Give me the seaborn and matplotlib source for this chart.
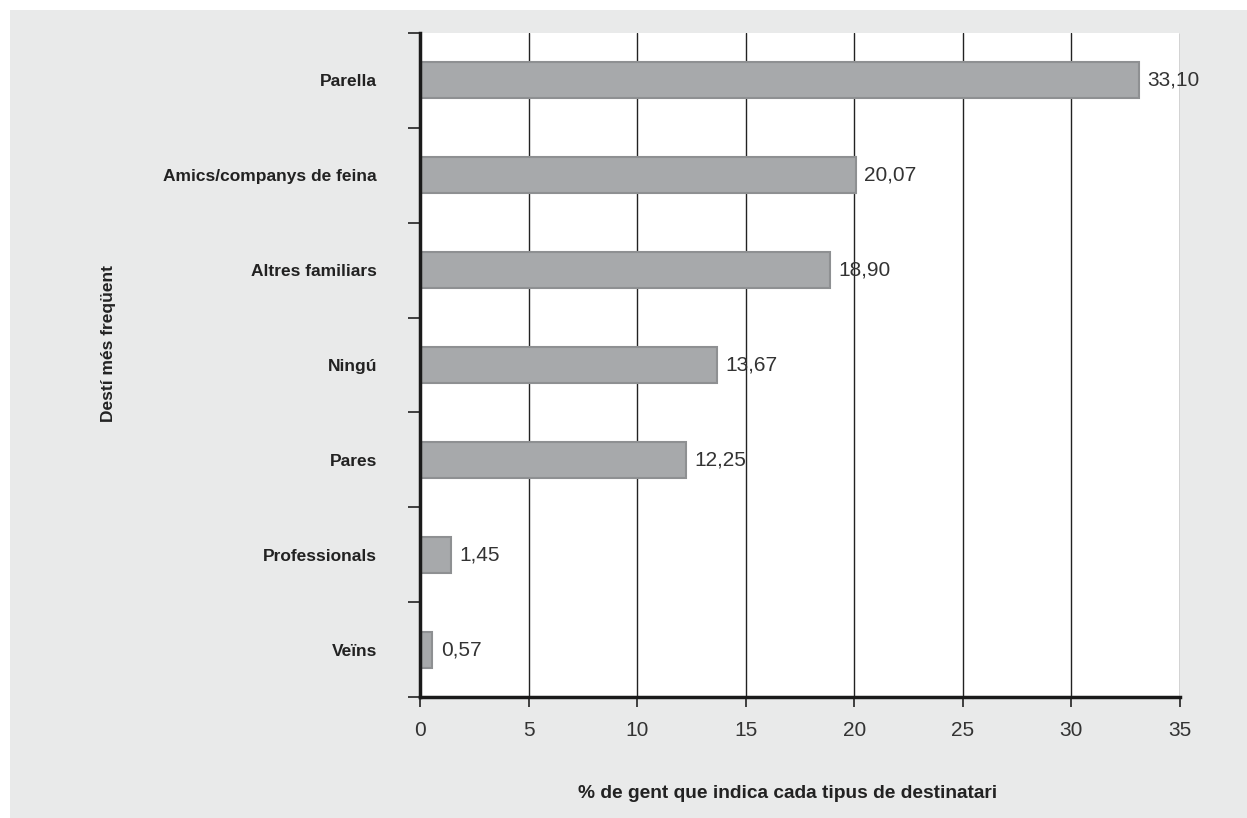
import matplotlib
matplotlib.use("Agg")
import matplotlib.pyplot as plt
import seaborn as sns
import pandas as pd
import numpy as np
from matplotlib.patches import Rectangle

categories = ["Parella", "Amics/companys de feina", "Altres familiars", "Ningú",
              "Pares", "Professionals", "Veïns"]
values = [33.10, 20.07, 18.90, 13.67, 12.25, 1.45, 0.57]
value_labels = ["33,10", "20,07", "18,90", "13,67", "12,25", "1,45", "0,57"]
xticks = [0, 5, 10, 15, 20, 25, 30, 35]

df = pd.DataFrame({"cat": categories, "val": values})

sns.set_style("white")
plt.rcParams["font.family"] = ["Liberation Sans", "DejaVu Sans"]

fig = plt.figure(figsize=(12.47, 8.18), dpi=100)
fig.patch.set_facecolor("white")
# grey panel behind the chart
fig.patches.append(Rectangle((10 / 1247, 0), 1 - 10 / 1247, 1 - 10 / 818,
                             transform=fig.transFigure, facecolor="#e9eaea",
                             edgecolor="none", zorder=-10))

ax = fig.add_axes([420 / 1247, 1 - 697 / 818, 760 / 1247, 664 / 818])
ax.set_facecolor("white")

sns.barplot(data=df, x="val", y="cat", ax=ax, color="#a7a9ab", width=0.38,
            edgecolor="#8e9092", linewidth=1.5, saturation=1)

for i, (v, lab) in enumerate(zip(values, value_labels)):
    ax.annotate(lab, (v, i), xytext=(6, 0), textcoords="offset points",
                va="center", ha="left", fontsize=15, color="#333333")

ax.set_xlim(0, 35)
ax.set_ylim(len(categories) - 0.5, -0.5)
ax.set_xticks(xticks)
ax.set_xticklabels([str(t) for t in xticks], fontsize=15, color="#333333")
ax.grid(axis="x", color="#222222", linewidth=1)
ax.set_axisbelow(True)

ax.set_yticks(range(len(categories)))
ax.set_yticklabels(categories, fontsize=12.5, fontweight="bold", color="#222222")
ax.tick_params(axis="y", which="major", length=0, pad=31)
ax.set_yticks(np.arange(-0.5, len(categories), 1), minor=True)
ax.tick_params(axis="y", which="minor", length=9, width=1.2, color="#222222", left=True)
ax.tick_params(axis="x", which="major", length=7, width=1.2, color="#222222",
               bottom=True, pad=10)

for s in ["top", "right"]:
    ax.spines[s].set_visible(False)
for s in ["left", "bottom"]:
    ax.spines[s].set_linewidth(2.5)
    ax.spines[s].set_color("#1a1a1a")

ax.set_xlabel("")
ax.set_ylabel("")
fig.text(788 / 1247, 1 - 793 / 818,
         "% de gent que indica cada tipus de destinatari",
         ha="center", va="center", fontsize=13.8, fontweight="bold", color="#222222")
fig.text(108 / 1247, 1 - 344 / 818, "Destí més freqüent", rotation=90,
         ha="center", va="center", fontsize=12.5, fontweight="bold", color="#222222")

fig.savefig("out.png", dpi=100)
